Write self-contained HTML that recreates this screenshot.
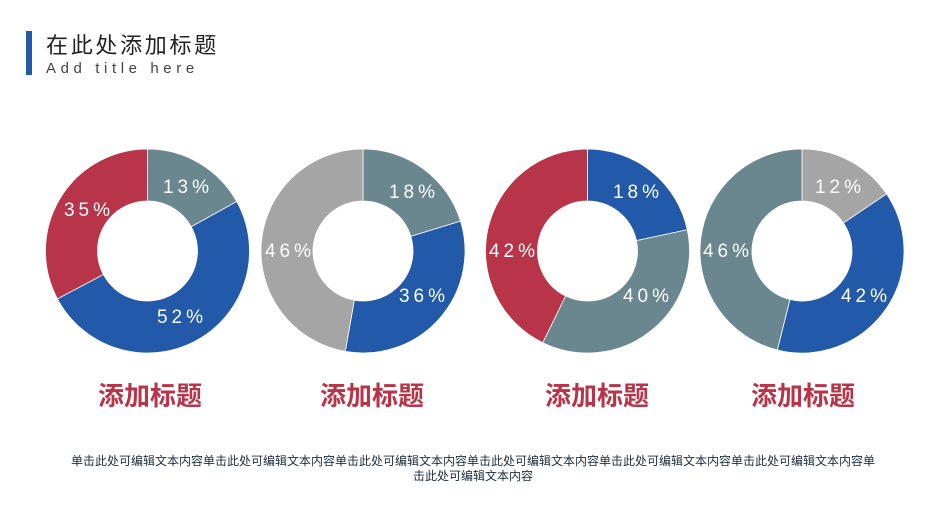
<!DOCTYPE html>
<html><head><meta charset="utf-8"><style>
body{margin:0;width:945px;height:529px;background:#fff;overflow:hidden;position:relative;font-family:"Liberation Sans","Noto Sans CJK SC",sans-serif}
.bar{position:absolute;left:26px;top:31px;width:6px;height:44px;background:#2259A8}
.t1{position:absolute;left:46px;top:33px;font-size:22px;color:#222;letter-spacing:2.7px;line-height:26px}
.t2{position:absolute;left:46px;top:60px;font-size:15px;color:#444;letter-spacing:4.6px;line-height:18px}
.h{position:absolute;top:381px;font-size:26px;font-weight:bold;color:#B83549;width:200px;text-align:center;line-height:30px}
.body{position:absolute;left:67px;width:812px;top:454px;font-size:12px;line-height:15px;color:#1f2d3d;text-align:center}
svg{position:absolute;left:0;top:0}
</style></head><body>
<div class="bar"></div>
<div class="t1">在此处添加标题</div>
<div class="t2">Add title here</div>
<svg id="s" width="945" height="529"></svg>
<div class="h" style="left:50px">添加标题</div>
<div class="h" style="left:272px">添加标题</div>
<div class="h" style="left:497px">添加标题</div>
<div class="h" style="left:703px">添加标题</div>
<div class="body">单击此处可编辑文本内容单击此处可编辑文本内容单击此处可编辑文本内容单击此处可编辑文本内容单击此处可编辑文本内容单击此处可编辑文本内容单击此处可编辑文本内容</div>
<script>
var R='#B83549',B='#2259A8',S='#6A8790',G='#A5A5A5';
var charts=[
 {cx:147.5,cy:251,seg:[[61,S],[242,B],[360,R]],lab:[['13%',188,186],['52%',182,316],['35%',89,209]]},
 {cx:363,cy:251,seg:[[73,S],[190,B],[360,G]],lab:[['18%',414,191],['36%',424,295],['46%',290,250]]},
 {cx:587.5,cy:251,seg:[[78,B],[206,S],[360,R]],lab:[['18%',638,191],['40%',648,295],['42%',514,250]]},
 {cx:802,cy:251,seg:[[56,G],[194,B],[360,S]],lab:[['12%',840,186],['42%',866,295],['46%',728,250]]}];
var ro=102,ri=50,h='';
function pt(cx,cy,r,a){return [cx+r*Math.sin(a),cy-r*Math.cos(a)];}
charts.forEach(function(c){
 var a=0;
 c.seg.forEach(function(s){
  var a2=s[0]*Math.PI/180,lg=(a2-a)>Math.PI?1:0;
  var p1=pt(c.cx,c.cy,ro,a),p2=pt(c.cx,c.cy,ro,a2),p3=pt(c.cx,c.cy,ri,a2),p4=pt(c.cx,c.cy,ri,a);
  h+='<path d="M'+p1+' A'+ro+','+ro+' 0 '+lg+' 1 '+p2+' L'+p3+' A'+ri+','+ri+' 0 '+lg+' 0 '+p4+'Z" fill="'+s[1]+'" stroke="#fff" stroke-width="0.8"/>';
  a=a2;});
 c.lab.forEach(function(l){h+='<text x="'+l[1]+'" y="'+(l[2]+7)+'" text-anchor="middle" font-size="19" letter-spacing="4" fill="#fff" font-family="Liberation Sans,sans-serif">'+l[0]+'</text>';});
});
document.getElementById('s').innerHTML=h;
</script>
</body></html>
